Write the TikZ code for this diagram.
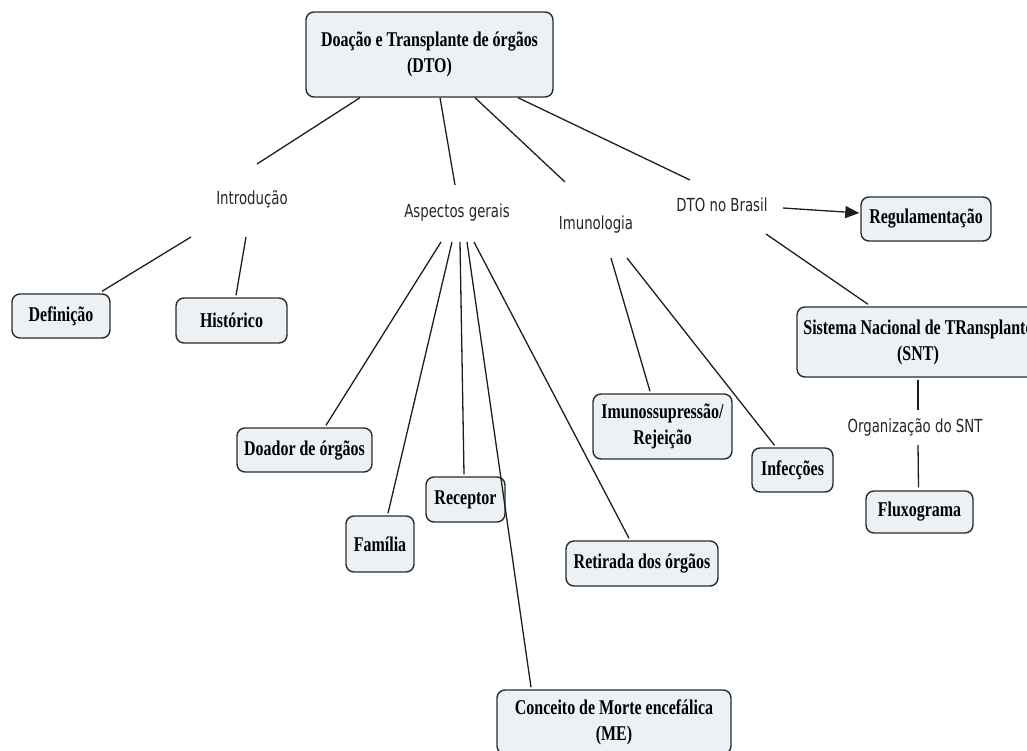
\documentclass[tikz,border=0pt]{standalone}
\usepackage{fontspec}
\usetikzlibrary{arrows.meta}
\newfontfamily\boxfont[FakeStretch=0.76]{Liberation Serif}
\newfontfamily\labfont[FakeStretch=0.74]{DejaVu Sans}
\definecolor{boxfill}{HTML}{EBF1F4}
\definecolor{boxline}{HTML}{2B2B2B}
\definecolor{linkcol}{HTML}{1E1E1E}
\tikzset{
  topic/.style={draw=boxline, fill=boxfill, line width=1.4pt, rounded corners=8pt,
    align=center, inner sep=2pt, text=black,
    font=\boxfont\bfseries\fontsize{21}{26}\selectfont},
  linklabel/.style={inner sep=0pt, text=black!85, font=\labfont\fontsize{18}{21}\selectfont},
  link/.style={draw=linkcol, line width=1.3pt},
}
\begin{document}
\begin{tikzpicture}[x=1pt, y=-1pt]
\useasboundingbox (0,0) rectangle (1027,751);

% concept boxes
\node[topic, minimum width=247pt, minimum height=85pt] (dto) at (429.5,54.5) {Doação e Transplante de órgãos\\(DTO)};
\node[topic, minimum width=98pt, minimum height=44pt] (def) at (61,316) {Definição};
\node[topic, minimum width=111pt, minimum height=45pt] (hist) at (231.5,320.5) {Histórico};
\node[topic, minimum width=130pt, minimum height=44pt] (reg) at (926,219) {Regulamentação};
\node[topic, minimum width=242pt, minimum height=70pt] (snt) at (918,342) {Sistema Nacional de TRansplante\\(SNT)};
\node[topic, minimum width=135pt, minimum height=44pt] (doador) at (304.5,450) {Doador de órgãos};
\node[topic, minimum width=68pt, minimum height=56pt] (fam) at (380,544) {Família};
\node[topic, minimum width=79pt, minimum height=45pt] (rec) at (465.5,499.5) {Receptor};
\node[topic, minimum width=152pt, minimum height=45pt] (ret) at (642,563.5) {Retirada dos órgãos};
\node[topic, minimum width=234pt, minimum height=64pt] (me) at (614,722) {Conceito de Morte encefálica\\(ME)};
\node[topic, minimum width=139pt, minimum height=65pt] (imuno) at (662.5,426.5) {Imunossupressão/\\Rejeição};
\node[topic, minimum width=81pt, minimum height=44pt] (inf) at (792.5,470) {Infecções};
\node[topic, minimum width=107pt, minimum height=42pt] (flux) at (919.5,512) {Fluxograma};

% linking phrases
\node[linklabel] (intro) at (252,199) {Introdução};
\node[linklabel] (asp) at (457,213) {Aspectos gerais};
\node[linklabel] (imu) at (596,225) {Imunologia};
\node[linklabel] (bra) at (722,205) {DTO no Brasil};
\node[linklabel] (org) at (915,427) {Organização do SNT};

% connectors from the main topic
\draw[link] ([shift={(-69.5,0)}]dto.south) -- ([shift={(5,-35)}]intro.center);
\draw[link] ([shift={(10.5,0)}]dto.south) -- ([shift={(-2,-28)}]asp.center);
\draw[link] ([shift={(45.5,0)}]dto.south) -- ([shift={(-31,-43)}]imu.center);
\draw[link] ([shift={(88.5,0)}]dto.south) -- ([shift={(-32,-25)}]bra.center);

% Introdução
\draw[link] ([shift={(-61,38)}]intro.center) -- ([shift={(41,-2)}]def.north);
\draw[link] ([shift={(-6,38)}]intro.center) -- ([shift={(4.5,-2)}]hist.north);

% Aspectos gerais
\draw[link] ([shift={(-16,29)}]asp.center) -- ([shift={(21.5,-2)}]doador.north);
\draw[link] ([shift={(-5,29)}]asp.center) -- ([shift={(8,-2)}]fam.north);
\draw[link] ([shift={(3,29)}]asp.center) -- ([shift={(-1.5,-2)}]rec.north);
\draw[link] ([shift={(10,29)}]asp.center) -- ([shift={(-83,-2)}]me.north);
\draw[link] ([shift={(17,29)}]asp.center) -- ([shift={(-13,-2)}]ret.north);

% Imunologia
\draw[link] ([shift={(15,33)}]imu.center) -- ([shift={(-12.5,-2)}]imuno.north);
\draw[link] ([shift={(31,33)}]imu.center) -- ([shift={(-18,-2)}]inf.north);

% DTO no Brasil
\draw[link, -{Triangle[length=14pt,width=12pt]}] ([shift={(61,3)}]bra.center) -- ([shift={(-1,-6)}]reg.west);
\draw[link] ([shift={(44,29)}]bra.center) -- ([shift={(-50,-2)}]snt.north);
\draw[link] ([shift={(0,2)}]snt.south) -- ([shift={(3,-17)}]org.center);
\draw[link] ([shift={(3,18)}]org.center) -- ([shift={(-1,-3)}]flux.north);
\end{tikzpicture}
\end{document}
